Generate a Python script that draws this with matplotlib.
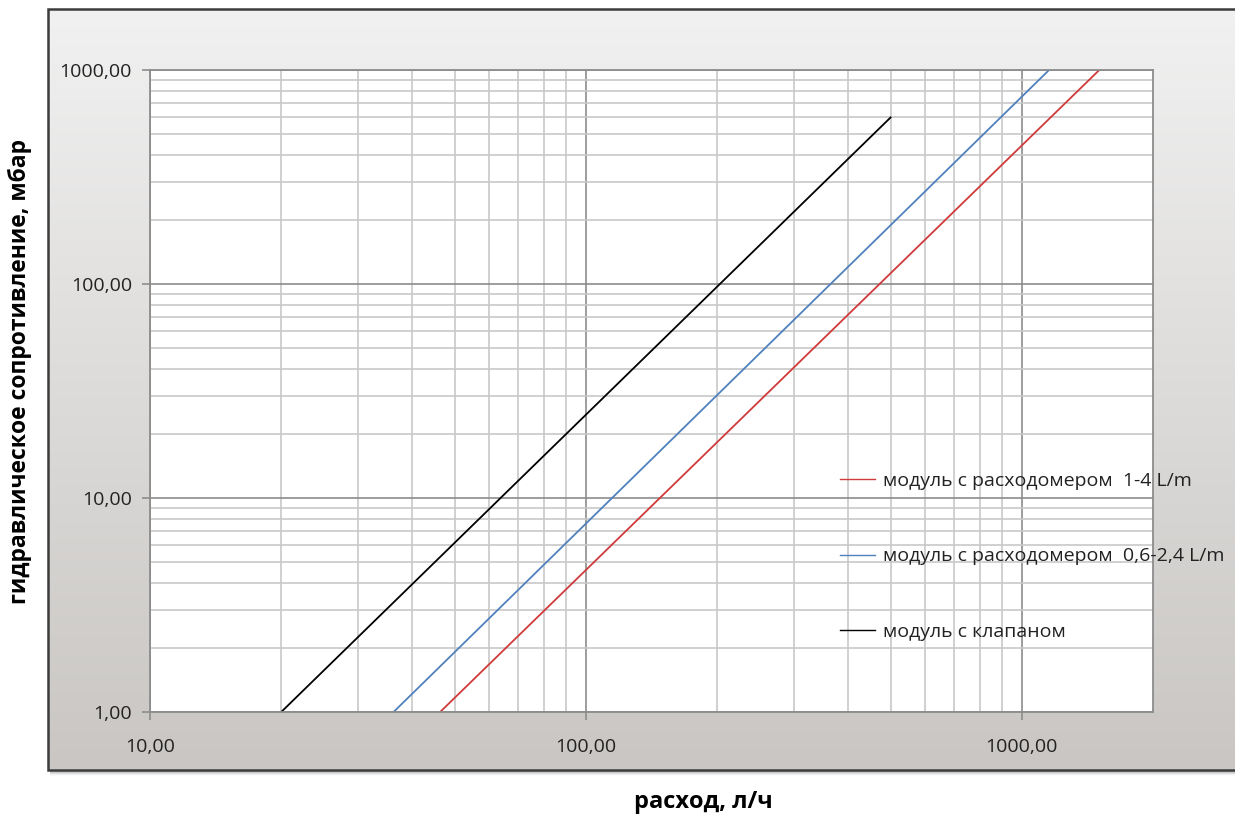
import numpy as np
import matplotlib
matplotlib.use("Agg")
import matplotlib.pyplot as plt
from matplotlib.patches import Rectangle
from matplotlib.ticker import LogLocator, FixedLocator, FuncFormatter, NullFormatter

plt.rcParams['font.family'] = ['Open Sans', 'DejaVu Sans']

# --- data ---
labels = ["модуль с расходомером  1-4 L/m",
          "модуль с расходомером  0,6-2,4 L/m",
          "модуль с клапаном"]
flow_red = [46.3, 1506]
dp_red = [1, 1000]
flow_blue = [36.2, 1155]
dp_blue = [1, 1000]
flow_black = [20, 500]
dp_black = [1, 600]
colors = ["#d03a3a", "#4f81bd", "#000000"]
x_major = [10, 100, 1000]
x_minor = [20, 30, 40, 50, 60, 70, 80, 90, 200, 300, 400, 500, 600, 700, 800, 900]
y_major = [1, 10, 100, 1000]

W, H = 1235, 816
fig = plt.figure(figsize=(W / 100, H / 100), dpi=100)
fig.patch.set_facecolor("white")

# background box with gradient
bg = fig.add_axes([0, 0, 1, 1], zorder=-5)
bg.set_xlim(0, W)
bg.set_ylim(H, 0)
bg.axis("off")
x0, y0, x1, y1 = 48, 9, 1236, 770
# shadow
for i, a in enumerate([0.10, 0.07, 0.04, 0.02]):
    bg.add_patch(Rectangle((x0 + 2, y0 + 2), x1 - x0, y1 - y0 + i + 1, facecolor="black",
                           alpha=a, edgecolor="none", zorder=0))
grad = np.linspace(0, 1, 256)[:, None]
top = np.array([241, 241, 241]) / 255
bot = np.array([201, 198, 195]) / 255
img = top[None, None, :] * (1 - grad[:, :, None]) + bot[None, None, :] * grad[:, :, None]
bg.imshow(img, extent=[x0, x1, y1, y0], aspect="auto", zorder=1, interpolation="bilinear")
bg.add_patch(Rectangle((x0, y0), x1 - x0, y1 - y0, facecolor="none",
                       edgecolor="#3c3c3c", linewidth=1.8, zorder=2))

# main axes
ax = fig.add_axes([150 / W, 1 - 712 / H, (1153 - 150) / W, (712 - 70) / H])
ax.set_facecolor("white")
ax.set_xscale("log")
ax.set_yscale("log")
ax.set_xlim(10, 2000)
ax.set_ylim(1, 1000)

ax.xaxis.set_major_locator(FixedLocator(x_major))
ax.xaxis.set_minor_locator(FixedLocator(x_minor))
ax.yaxis.set_major_locator(FixedLocator(y_major))
ax.yaxis.set_minor_locator(LogLocator(base=10, subs=np.arange(2, 10), numticks=20))
fmt = FuncFormatter(lambda v, p: f"{v:.2f}".replace(".", ","))
ax.xaxis.set_major_formatter(fmt)
ax.yaxis.set_major_formatter(fmt)
ax.xaxis.set_minor_formatter(NullFormatter())
ax.yaxis.set_minor_formatter(NullFormatter())

ax.grid(which="major", color="#8c8c8c", linewidth=1.2)
ax.grid(which="minor", color="#c8c8c8", linewidth=1.2)
ax.set_axisbelow(True)
for s in ax.spines.values():
    s.set_color("#8c8c8c")
    s.set_linewidth(1.3)
ax.tick_params(which="major", length=6, color="#8c8c8c", width=1.2, labelsize=14,
               labelcolor="#222222", pad=7)
ax.tick_params(which="minor", length=0)
ax.tick_params(axis="x", which="major", pad=13)

ax.plot(flow_red, dp_red, color=colors[0], linewidth=1.3, label=labels[0])
ax.plot(flow_blue, dp_blue, color=colors[1], linewidth=1.3, label=labels[1])
ax.plot(flow_black, dp_black, color=colors[2], linewidth=1.3, label=labels[2])

leg = ax.legend(loc="upper left", bbox_to_anchor=(840 / W, 1 - 472 / H),
                bbox_transform=fig.transFigure, frameon=False, fontsize=14,
                handlelength=1.8, handletextpad=0.4, labelspacing=2.95,
                borderpad=0, borderaxespad=0)
for t in leg.get_texts():
    t.set_color("#222222")
for lh in leg.get_lines():
    lh.set_linewidth(1.0)

fig.text(703 / W, 1 - 802 / H, "расход, л/ч", ha="center", va="center",
         fontsize=17, fontweight="bold", color="black")
fig.text(20 / W, 1 - 372 / H, "гидравлическое сопротивление, мбар", ha="center",
         va="center", rotation=90, fontsize=16.5, fontweight="bold", color="black")

fig.savefig("out.png", dpi=100)
